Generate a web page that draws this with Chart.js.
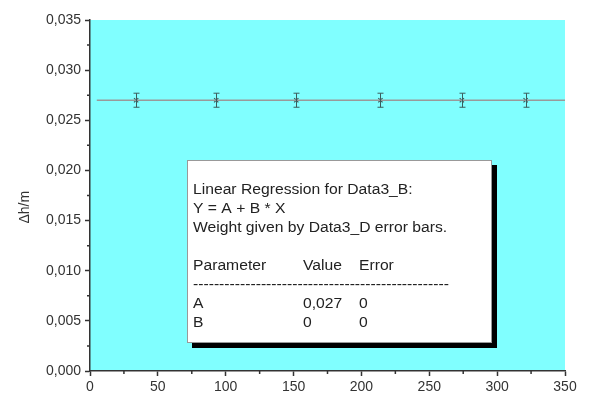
<!DOCTYPE html>
<html>
<head>
<meta charset="utf-8">
<script src="https://cdn.jsdelivr.net/npm/chart.js@4"></script>
<style>
  html, body { margin: 0; padding: 0; background: #fff; }
  #wrap { width: 593px; height: 394px; }
</style>
</head>
<body>
<div id="wrap"><canvas id="chart" width="593" height="394"></canvas></div>
<script>
// ===== data =====
const xValues = [34, 93, 152, 214, 274, 321];
const yValues = [0.027, 0.027, 0.027, 0.027, 0.027, 0.027];
const yErrors = [0.0007, 0.0007, 0.0007, 0.0007, 0.0007, 0.0007];
const fitX = [5, 350];
const fitY = [0.027, 0.027];
const xTicks = [0, 50, 100, 150, 200, 250, 300, 350];
const xMinor = [25, 75, 125, 175, 225, 275, 325];
const yTicks = [0, 0.005, 0.010, 0.015, 0.020, 0.025, 0.030, 0.035];
const yMinor = [0.0025, 0.0075, 0.0125, 0.0175, 0.0225, 0.0275, 0.0325];
const yTitle = '\u0394h/m';
const boxHeader = ['Linear Regression for Data3_B:', 'Y = A + B * X', 'Weight given by Data3_D error bars.'];
const paramHead = ['Parameter', 'Value', 'Error'];
const paramRows = [['A', '0,027', '0'], ['B', '0', '0']];

const FONT = "'Liberation Sans', Arial, sans-serif";
Chart.defaults.font.family = FONT;

// plot background
const bgPlugin = {
  id: 'bg',
  beforeDraw(chart) {
    const a = chart.chartArea, ctx = chart.ctx;
    ctx.save();
    ctx.fillStyle = '#80ffff';
    ctx.fillRect(a.left, a.top, a.right - a.left, a.bottom - a.top);
    ctx.restore();
  }
};

// minor ticks (shorter, outside)
const minorPlugin = {
  id: 'minor',
  afterDraw(chart) {
    const ctx = chart.ctx, a = chart.chartArea;
    const xs = chart.scales.x, ys = chart.scales.y;
    ctx.save();
    ctx.strokeStyle = '#333';
    ctx.lineWidth = 1.5;
    ctx.beginPath();
    xMinor.forEach(v => {
      const px = xs.getPixelForValue(v);
      ctx.moveTo(px, a.bottom); ctx.lineTo(px, a.bottom + 3);
    });
    yMinor.forEach(v => {
      const py = ys.getPixelForValue(v);
      ctx.moveTo(a.left, py); ctx.lineTo(a.left - 3, py);
    });
    ctx.stroke();
    ctx.restore();
  }
};

// vertical error bars
const errPlugin = {
  id: 'errbars',
  afterDatasetsDraw(chart) {
    const ctx = chart.ctx;
    const xs = chart.scales.x, ys = chart.scales.y;
    ctx.save();
    ctx.strokeStyle = '#3c5c5c';
    ctx.lineWidth = 1;
    xValues.forEach((x, i) => {
      const px = Math.round(xs.getPixelForValue(x)) + 0.5;
      const top = ys.getPixelForValue(yValues[i] + yErrors[i]);
      const bot = ys.getPixelForValue(yValues[i] - yErrors[i]);
      ctx.beginPath();
      ctx.moveTo(px, top); ctx.lineTo(px, bot);
      ctx.moveTo(px - 3, top); ctx.lineTo(px + 3, top);
      ctx.moveTo(px - 3, bot); ctx.lineTo(px + 3, bot);
      ctx.stroke();
    });
    ctx.restore();
  }
};

// regression text box with drop shadow
function stretchText(ctx, t, x, y) {
  ctx.save();
  ctx.translate(x, y);
  ctx.scale(1.12, 1);
  ctx.fillText(t, 0, 0);
  ctx.restore();
}
const boxPlugin = {
  id: 'fitbox',
  afterDraw(chart) {
    const ctx = chart.ctx, a = chart.chartArea;
    const bx = a.left + 97, by = a.top + 140, bw = 305, bh = 183;
    ctx.save();
    ctx.fillStyle = '#000';
    ctx.fillRect(bx + 5, by + 5, bw, bh);
    ctx.fillStyle = '#fff';
    ctx.fillRect(bx, by, bw, bh);
    ctx.strokeStyle = '#999';
    ctx.lineWidth = 1;
    ctx.strokeRect(bx + 0.5, by + 0.5, bw - 1, bh - 1);

    ctx.fillStyle = '#222';
    ctx.font = '14px ' + FONT;
    ctx.textBaseline = 'middle';
    const tx = bx + 6, c2 = bx + 116, c3 = bx + 172;
    boxHeader.forEach((t, i) => stretchText(ctx, t, tx, by + 30 + i * 19));
    let ly = by + 106;
    stretchText(ctx, paramHead[0], tx, ly);
    stretchText(ctx, paramHead[1], c2, ly);
    stretchText(ctx, paramHead[2], c3, ly);
    stretchText(ctx, '-'.repeat(49), tx, ly + 19);
    paramRows.forEach((r, i) => {
      const yy = ly + 38 + i * 19;
      stretchText(ctx, r[0], tx, yy);
      stretchText(ctx, r[1], c2, yy);
      stretchText(ctx, r[2], c3, yy);
    });
    ctx.restore();
  }
};

new Chart(document.getElementById('chart'), {
  type: 'scatter',
  data: {
    datasets: [
      {
        type: 'line',
        data: fitX.map((x, i) => ({ x: x, y: fitY[i] })),
        borderColor: '#9a9a9a',
        borderWidth: 1.5,
        pointRadius: 0,
        fill: false
      },
      {
        type: 'scatter',
        data: xValues.map((x, i) => ({ x: x, y: yValues[i] })),
        pointStyle: 'crossRot',
        pointRadius: 3,
        borderColor: '#3c5c5c',
        borderWidth: 1.2,
        backgroundColor: '#3c5c5c'
      }
    ]
  },
  options: {
    responsive: false,
    animation: false,
    layout: { padding: { top: 20, right: 28, left: 0, bottom: 0 } },
    plugins: { legend: { display: false }, tooltip: { enabled: false } },
    scales: {
      x: {
        type: 'linear', min: 0, max: 350,
        afterBuildTicks: s => { s.ticks = xTicks.map(v => ({ value: v })); },
        afterFit: s => { s.height = 23; },
        grid: { drawOnChartArea: false, drawTicks: true, tickLength: 5, tickColor: '#333', tickWidth: 1.5 },
        border: { display: true, color: '#333', width: 1.5 },
        ticks: { color: '#333', font: { size: 14 }, padding: 3, maxRotation: 0 }
      },
      y: {
        type: 'linear', min: 0, max: 0.035,
        afterBuildTicks: s => { s.ticks = yTicks.map(v => ({ value: v })); },
        afterFit: s => { s.width = 90; },
        grid: { drawOnChartArea: false, drawTicks: true, tickLength: 5, tickColor: '#333', tickWidth: 1.5 },
        border: { display: true, color: '#333', width: 1.5 },
        ticks: { color: '#333', font: { size: 14 }, padding: 4,
          callback: v => v.toFixed(3).replace('.', ',') },
        // trailing spaces push the rotated title a little below the axis middle, as in the reference
        title: { display: true, text: yTitle + '      ', color: '#333', font: { size: 14 }, padding: { top: 17, bottom: 0 } }
      }
    }
  },
  plugins: [bgPlugin, minorPlugin, errPlugin, boxPlugin]
});
</script>
</body>
</html>
